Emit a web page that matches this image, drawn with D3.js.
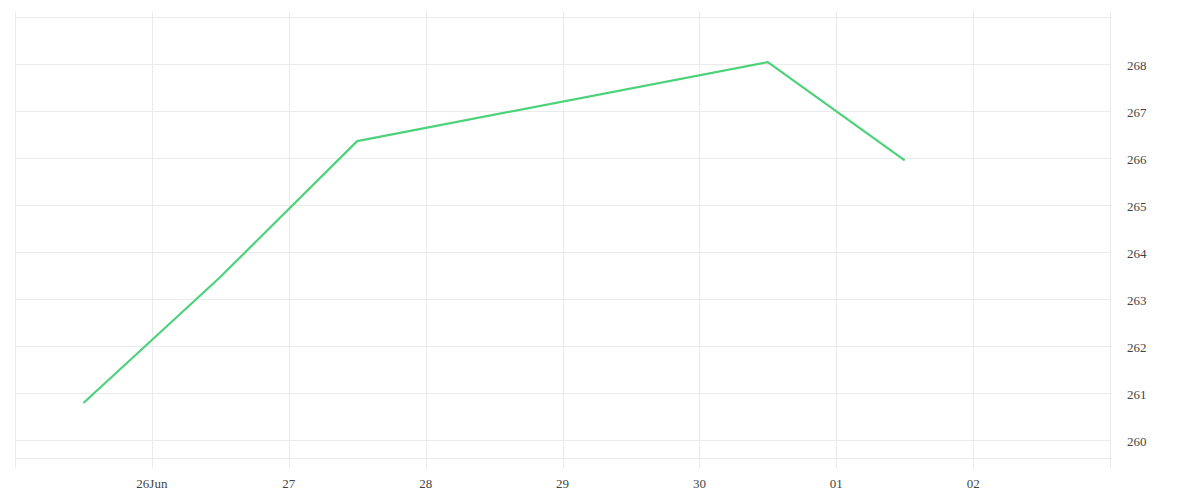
<!DOCTYPE html>
<html>
<head>
<meta charset="utf-8">
<script src="https://cdn.jsdelivr.net/npm/d3@7"></script>
<style>
  body { margin: 0; background: #fff; }
  svg { display: block; }
</style>
</head>
<body>
<svg id="chart" width="1200" height="500"></svg>
<script>
const svg = d3.select("#chart");

// data
const dates = ["2025-06-25T12:00", "2025-06-26T12:00", "2025-06-27T12:00", "2025-06-30T12:00", "2025-07-01T12:00"];
const values = [260.79, 263.47, 266.36, 268.04, 265.95];
const xTicks = ["2025-06-26", "2025-06-27", "2025-06-28", "2025-06-29", "2025-06-30", "2025-07-01", "2025-07-02"];
const xTickLabels = ["26Jun", "27", "28", "29", "30", "01", "02"];
const yTicks = [260, 261, 262, 263, 264, 265, 266, 267, 268];

const parse = d3.timeParse("%Y-%m-%dT%H:%M");
const parseDay = d3.timeParse("%Y-%m-%d");
const points = dates.map((d, i) => ({ date: parse(d), value: values[i] }));

const plotLeft = 15, plotRight = 1110, plotTop = 17, plotBottom = 458;

const x = d3.scaleTime()
    .domain([parseDay("2025-06-25"), parseDay("2025-07-03")])
    .range([plotLeft, plotRight]);

const y = d3.scaleLinear()
    .domain([259.62, 269])
    .range([plotBottom, plotTop]);

const grid = "#ebebeb";

// horizontal grid
svg.append("g")
    .selectAll("line")
    .data([...yTicks, 269])
    .join("line")
    .attr("x1", plotLeft)
    .attr("x2", plotRight)
    .attr("y1", d => Math.round(y(d)) + 0.5)
    .attr("y2", d => Math.round(y(d)) + 0.5)
    .attr("stroke", grid);

svg.append("line")
    .attr("x1", plotLeft).attr("x2", plotRight)
    .attr("y1", plotBottom + 0.5).attr("y2", plotBottom + 0.5)
    .attr("stroke", grid);

// vertical grid (incl. frame edges)
const vLines = [x.domain()[0], ...xTicks.map(parseDay), x.domain()[1]];
svg.append("g")
    .selectAll("line")
    .data(vLines)
    .join("line")
    .attr("x1", d => Math.round(x(d)) + 0.5)
    .attr("x2", d => Math.round(x(d)) + 0.5)
    .attr("y1", plotTop - 5)
    .attr("y2", plotBottom + 10)
    .attr("stroke", grid);

// x labels
svg.append("g")
    .selectAll("text")
    .data(xTicks)
    .join("text")
    .attr("x", d => x(parseDay(d)))
    .attr("y", 488)
    .attr("text-anchor", "middle")
    .attr("font-family", "Liberation Serif, serif")
    .attr("font-size", "13px")
    .attr("fill", "#444")
    .text((d, i) => xTickLabels[i]);

// y labels on the right
svg.append("g")
    .selectAll("text")
    .data(yTicks)
    .join("text")
    .attr("x", 1127)
    .attr("y", d => y(d) + 6)
    .attr("font-family", "Liberation Serif, serif")
    .attr("font-size", "13px")
    .attr("fill", "#444")
    .text(d => d);

// the line
const line = d3.line()
    .x(d => x(d.date))
    .y(d => y(d.value));

svg.append("path")
    .datum(points)
    .attr("d", line)
    .attr("fill", "none")
    .attr("stroke", "#4cd27a")
    .attr("stroke-width", 2.2)
    .attr("stroke-linejoin", "round");
</script>
</body>
</html>
